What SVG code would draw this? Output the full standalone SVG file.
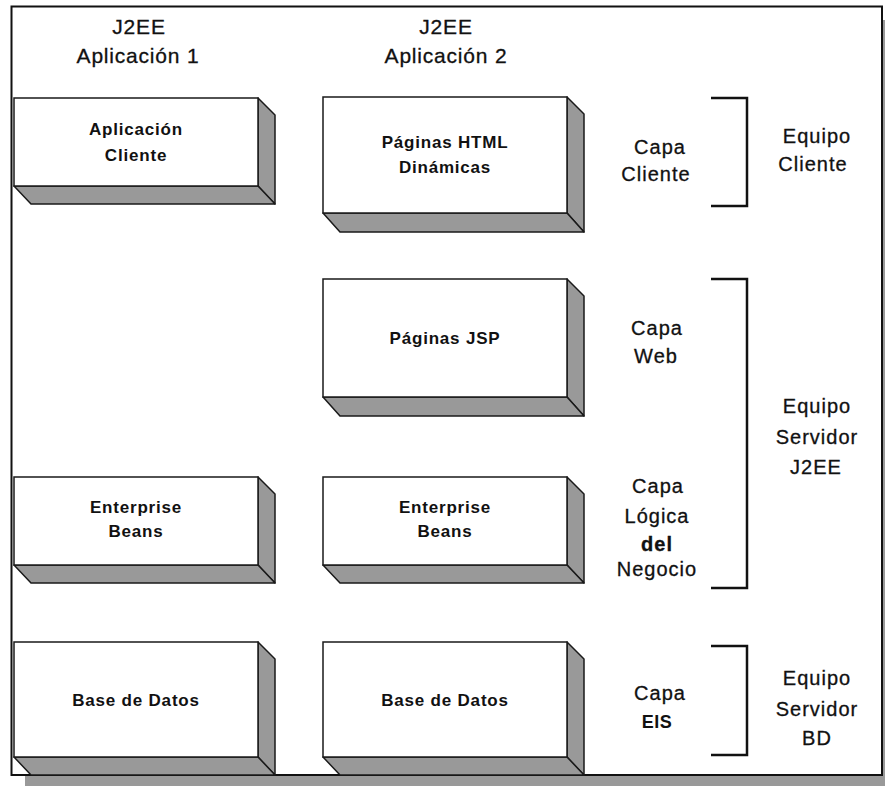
<svg xmlns="http://www.w3.org/2000/svg" width="885" height="786" viewBox="0 0 885 786">
  <defs>
    <style>
      .face { fill: #ffffff; stroke: #1a1a1a; stroke-width: 1.5; }
      .shade { fill: #999999; stroke: #1a1a1a; stroke-width: 1.5; stroke-linejoin: round; }
      .lbl { font-family: "Liberation Sans", Arial, sans-serif; font-weight: bold; font-size: 17px; letter-spacing: 0.8px; fill: #111; text-anchor: middle; }
      .hdr { font-family: "Liberation Sans", Arial, sans-serif; font-size: 21px; letter-spacing: 0.8px; fill: #111; stroke: #111; stroke-width: 0.3; text-anchor: middle; }
      .tier { font-family: "Liberation Sans", Arial, sans-serif; font-size: 20px; letter-spacing: 1px; fill: #111; stroke: #111; stroke-width: 0.3; text-anchor: middle; }
      .brk { fill: none; stroke: #111; stroke-width: 2.5; }
    </style>
  </defs>

  <!-- page frame with drop shadow -->
  <rect x="25" y="20" width="861" height="767" fill="#999999"/>
  <rect x="11.5" y="6.5" width="870.5" height="768.5" fill="#ffffff" stroke="#111" stroke-width="2"/>

  <!-- column headers -->
  <g id="header-app1">
    <text class="hdr" x="139" y="34">J2EE</text>
    <text class="hdr" x="138" y="63">Aplicación 1</text>
  </g>
  <g id="header-app2">
    <text class="hdr" x="446" y="34">J2EE</text>
    <text class="hdr" x="446" y="63">Aplicación 2</text>
  </g>

  <!-- Application 1: 3D blocks (front face, extruded side and bottom) -->
  <g id="app1-cliente">
    <polygon class="shade" points="258,98 275,115 275,204 258,186"/>
    <polygon class="shade" points="14,186 258,186 275,204 31,204"/>
    <rect class="face" x="14" y="98" width="244" height="88"/>
    <text class="lbl" x="136" y="135">Aplicación</text>
    <text class="lbl" x="136" y="161">Cliente</text>
  </g>
  <g id="app1-beans">
    <polygon class="shade" points="258,477 275,494 275,583 258,565"/>
    <polygon class="shade" points="14,565 258,565 275,583 31,583"/>
    <rect class="face" x="14" y="477" width="244" height="88"/>
    <text class="lbl" x="136" y="513">Enterprise</text>
    <text class="lbl" x="136" y="537">Beans</text>
  </g>
  <g id="app1-bd">
    <polygon class="shade" points="258,642 275,659 275,775 258,757"/>
    <polygon class="shade" points="14,757 258,757 275,775 31,775"/>
    <rect class="face" x="14" y="642" width="244" height="115"/>
    <text class="lbl" x="136" y="706">Base de Datos</text>
  </g>

  <!-- Application 2 -->
  <g id="app2-html">
    <polygon class="shade" points="567,97 584,114 584,232 567,213"/>
    <polygon class="shade" points="323,213 567,213 584,232 340,232"/>
    <rect class="face" x="323" y="97" width="244" height="116"/>
    <text class="lbl" x="445" y="148">Páginas HTML</text>
    <text class="lbl" x="445" y="173">Dinámicas</text>
  </g>
  <g id="app2-jsp">
    <polygon class="shade" points="567,279 584,296 584,416 567,397"/>
    <polygon class="shade" points="323,397 567,397 584,416 340,416"/>
    <rect class="face" x="323" y="279" width="244" height="118"/>
    <text class="lbl" x="445" y="344">Páginas JSP</text>
  </g>
  <g id="app2-beans">
    <polygon class="shade" points="567,477 584,494 584,583 567,565"/>
    <polygon class="shade" points="323,565 567,565 584,583 340,583"/>
    <rect class="face" x="323" y="477" width="244" height="88"/>
    <text class="lbl" x="445" y="513">Enterprise</text>
    <text class="lbl" x="445" y="537">Beans</text>
  </g>
  <g id="app2-bd">
    <polygon class="shade" points="567,642 584,659 584,775 567,757"/>
    <polygon class="shade" points="323,757 567,757 584,775 340,775"/>
    <rect class="face" x="323" y="642" width="244" height="115"/>
    <text class="lbl" x="445" y="706">Base de Datos</text>
  </g>

  <!-- tier labels -->
  <g id="tier-cliente">
    <text class="tier" x="660" y="154">Capa</text>
    <text class="tier" x="656" y="181">Cliente</text>
  </g>
  <g id="tier-web">
    <text class="tier" x="657" y="335">Capa</text>
    <text class="tier" x="656" y="363">Web</text>
  </g>
  <g id="tier-negocio">
    <text class="tier" x="658" y="493">Capa</text>
    <text class="tier" x="657" y="523">Lógica</text>
    <text class="tier" x="657" y="551" font-weight="bold">del</text>
    <text class="tier" x="657" y="576">Negocio</text>
  </g>
  <g id="tier-eis">
    <text class="tier" x="660" y="700">Capa</text>
    <text class="lbl" x="657" y="728" style="font-size:18px;letter-spacing:0.5px">EIS</text>
  </g>

  <!-- machine labels -->
  <g id="equipo-cliente">
    <text class="tier" x="817" y="143">Equipo</text>
    <text class="tier" x="813" y="171">Cliente</text>
  </g>
  <g id="equipo-servidor-j2ee">
    <text class="tier" x="817" y="413">Equipo</text>
    <text class="tier" x="817" y="444">Servidor</text>
    <text class="tier" x="816" y="474">J2EE</text>
  </g>
  <g id="equipo-servidor-bd">
    <text class="tier" x="817" y="685">Equipo</text>
    <text class="tier" x="817" y="716">Servidor</text>
    <text class="tier" x="817" y="745">BD</text>
  </g>

  <!-- grouping brackets -->
  <g id="brackets">
    <polyline class="brk" points="711,98 747,98 747,206 711,206"/>
    <polyline class="brk" points="711,279 747,279 747,588 711,588"/>
    <polyline class="brk" points="711,646 747,646 747,755 711,755"/>
  </g>
</svg>
